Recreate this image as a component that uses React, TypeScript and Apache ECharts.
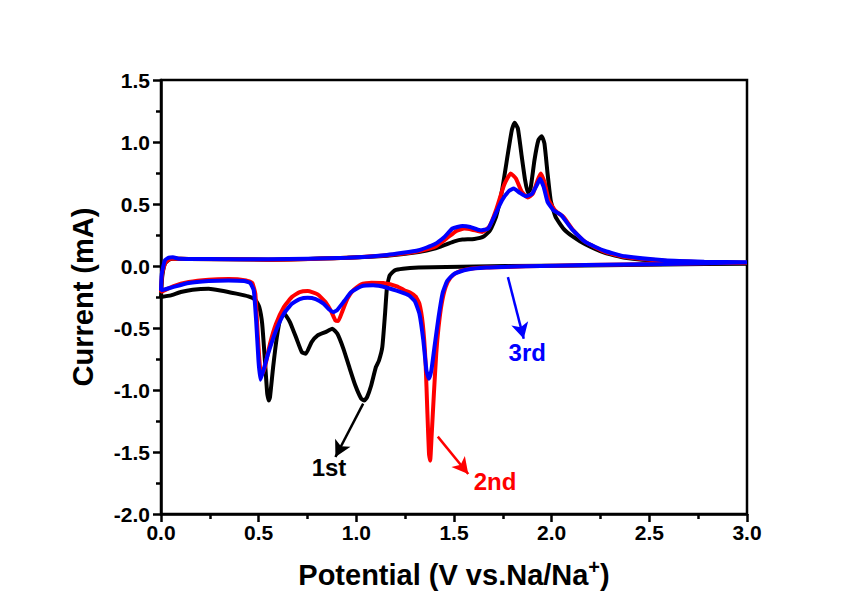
import React, { useEffect, useRef } from "react";
import * as echarts from "echarts";

// Potential (V), Current (mA) — cathodic scan (3.0 -> 0) followed by anodic scan (0 -> 3.0)
const cycle1: [number, number][] = [
  [3.0, 0.019], [2.578, 0.013], [2.172, 0.005], [1.766, 0.0], [1.461, -0.008], [1.319, -0.013],
  [1.238, -0.022], [1.197, -0.035], [1.171, -0.075], [1.157, -0.17], [1.147, -0.385], [1.133, -0.654],
  [1.116, -0.762], [1.1, -0.816], [1.076, -0.964], [1.055, -1.058], [1.041, -1.085], [1.025, -1.07],
  [0.995, -0.964], [0.964, -0.816], [0.934, -0.668], [0.903, -0.547], [0.877, -0.506], [0.842, -0.533],
  [0.802, -0.56], [0.771, -0.614], [0.741, -0.708], [0.721, -0.695], [0.694, -0.587], [0.66, -0.452],
  [0.633, -0.39], [0.613, -0.412], [0.593, -0.574], [0.574, -0.816], [0.558, -1.058], [0.552, -1.085],
  [0.544, -1.031], [0.532, -0.762], [0.518, -0.466], [0.503, -0.331], [0.483, -0.272], [0.447, -0.245],
  [0.386, -0.223], [0.304, -0.197], [0.244, -0.183], [0.162, -0.191], [0.101, -0.21], [0.051, -0.237],
  [0.0, -0.25],
  [0.006, -0.089], [0.02, 0.019], [0.04, 0.051], [0.061, 0.059], [0.142, 0.057], [0.548, 0.051],
  [0.954, 0.067], [1.157, 0.083], [1.319, 0.113], [1.4, 0.14], [1.461, 0.175], [1.502, 0.199],
  [1.543, 0.213], [1.604, 0.218], [1.654, 0.24], [1.685, 0.288], [1.715, 0.396], [1.746, 0.611],
  [1.776, 0.907], [1.796, 1.096], [1.81, 1.155], [1.827, 1.109], [1.847, 0.88], [1.864, 0.692],
  [1.878, 0.59], [1.892, 0.625], [1.912, 0.854], [1.932, 1.015], [1.949, 1.047], [1.963, 0.988],
  [1.979, 0.746], [1.995, 0.53], [2.02, 0.396], [2.06, 0.302], [2.111, 0.234], [2.172, 0.175],
  [2.273, 0.105], [2.375, 0.067], [2.578, 0.038], [2.781, 0.027], [3.0, 0.024],
];

const cycle2: [number, number][] = [
  [3.0, 0.027], [2.578, 0.016], [2.172, 0.008], [1.867, -0.003], [1.664, -0.013], [1.563, -0.027],
  [1.512, -0.054], [1.482, -0.094], [1.457, -0.17], [1.437, -0.304], [1.421, -0.493], [1.409, -0.708],
  [1.397, -1.031], [1.386, -1.354], [1.378, -1.57], [1.372, -1.516], [1.364, -1.193], [1.354, -0.762],
  [1.34, -0.466], [1.323, -0.304], [1.303, -0.245], [1.279, -0.218], [1.248, -0.197], [1.208, -0.164],
  [1.137, -0.137], [1.076, -0.135], [1.025, -0.148], [0.984, -0.197], [0.954, -0.264], [0.93, -0.358],
  [0.907, -0.444], [0.893, -0.439], [0.873, -0.372], [0.842, -0.291], [0.802, -0.229], [0.751, -0.202],
  [0.71, -0.21], [0.67, -0.25], [0.629, -0.331], [0.589, -0.466], [0.558, -0.627], [0.532, -0.816],
  [0.518, -0.87], [0.507, -0.816], [0.495, -0.547], [0.483, -0.223], [0.467, -0.137], [0.436, -0.116],
  [0.345, -0.105], [0.244, -0.11], [0.142, -0.129], [0.061, -0.164], [0.0, -0.21],
  [0.006, -0.062], [0.024, 0.032], [0.051, 0.059], [0.142, 0.057], [0.548, 0.051], [0.954, 0.067],
  [1.157, 0.086], [1.319, 0.118], [1.4, 0.153], [1.461, 0.221], [1.512, 0.283], [1.553, 0.302],
  [1.593, 0.293], [1.644, 0.275], [1.68, 0.315], [1.715, 0.45], [1.756, 0.652], [1.79, 0.746],
  [1.817, 0.705], [1.847, 0.598], [1.878, 0.552], [1.904, 0.584], [1.928, 0.692], [1.944, 0.746],
  [1.963, 0.679], [1.985, 0.53], [2.02, 0.444], [2.06, 0.396], [2.111, 0.288], [2.172, 0.194],
  [2.273, 0.113], [2.375, 0.073], [2.578, 0.043], [2.781, 0.032], [3.0, 0.027],
];

const cycle3: [number, number][] = [
  [3.0, 0.03], [2.578, 0.016], [2.172, 0.008], [1.867, -0.003], [1.664, -0.013], [1.563, -0.03],
  [1.502, -0.062], [1.465, -0.121], [1.441, -0.223], [1.421, -0.412], [1.4, -0.654], [1.384, -0.843],
  [1.372, -0.91], [1.359, -0.843], [1.343, -0.6], [1.323, -0.385], [1.299, -0.283], [1.269, -0.237],
  [1.228, -0.21], [1.157, -0.175], [1.086, -0.156], [1.025, -0.164], [0.974, -0.21], [0.938, -0.283],
  [0.903, -0.353], [0.883, -0.372], [0.863, -0.353], [0.832, -0.304], [0.792, -0.267], [0.751, -0.256],
  [0.71, -0.267], [0.67, -0.304], [0.629, -0.385], [0.589, -0.52], [0.548, -0.708], [0.524, -0.843],
  [0.509, -0.918], [0.499, -0.762], [0.487, -0.439], [0.475, -0.197], [0.457, -0.137], [0.426, -0.121],
  [0.345, -0.116], [0.244, -0.121], [0.142, -0.137], [0.061, -0.17], [0.0, -0.197],
  [0.004, -0.062], [0.02, 0.046], [0.04, 0.067], [0.061, 0.07], [0.091, 0.059], [0.244, 0.057],
  [0.548, 0.054], [0.954, 0.067], [1.157, 0.089], [1.319, 0.127], [1.4, 0.175], [1.451, 0.234],
  [1.492, 0.302], [1.543, 0.323], [1.583, 0.315], [1.634, 0.288], [1.675, 0.302], [1.709, 0.409],
  [1.746, 0.53], [1.782, 0.606], [1.806, 0.625], [1.837, 0.59], [1.867, 0.563], [1.898, 0.579],
  [1.924, 0.652], [1.94, 0.703], [1.959, 0.638], [1.979, 0.517], [2.009, 0.45], [2.05, 0.409],
  [2.101, 0.302], [2.172, 0.194], [2.273, 0.121], [2.375, 0.078], [2.578, 0.046], [2.781, 0.035],
  [3.0, 0.03],
];

const seriesNames = ["1st", "2nd", "3rd"];
const seriesColors = ["#000000", "#ff0000", "#0000ff"];

// annotation arrows: [from, to] in data coordinates
const arrowStarts: [number, number][] = [[1.035, -1.11], [1.417, -1.376], [1.776, -0.09]];
const arrowEnds: [number, number][] = [[0.893, -1.54], [1.573, -1.677], [1.857, -0.587]];
const labelPositions: [number, number][] = [[0.86, -1.623], [1.71, -1.737], [1.875, -0.695]];

const xTicks = { min: 0, max: 3, interval: 0.5 };
const yTicks = { min: -2, max: 1.5, interval: 0.5 };

const FONT = "'Liberation Sans', Arial, sans-serif";

export default function App() {
  const ref = useRef<HTMLDivElement>(null);
  useEffect(() => {
    if (!ref.current) return;
    const chart = echarts.init(ref.current, undefined, { renderer: "svg" });
    const cycles = [cycle1, cycle2, cycle3];
    const axisCommon = {
      axisLine: { show: true, onZero: false, lineStyle: { color: "#000", width: 2.5 } },
      axisTick: { show: true, inside: false, length: 8, lineStyle: { color: "#000", width: 2.5 } },
      minorTick: { show: true, splitNumber: 2, length: 5, lineStyle: { color: "#000", width: 2.5 } },
      splitLine: { show: false },
      axisLabel: {
        color: "#000",
        fontFamily: FONT,
        fontWeight: "bold",
        fontSize: 21,
        formatter: (v: number) => v.toFixed(1),
      },
    };
    const lineSeries = cycles.map((d, i) => ({
      type: "line",
      name: seriesNames[i],
      data: d,
      showSymbol: false,
      symbol: "none",
      smooth: 0.15,
      lineStyle: { color: seriesColors[i], width: 4 },
      z: 2 + i,
    }));
    const arrowSeries = {
      type: "line",
      data: [],
      silent: true,
      z: 6,
      markLine: {
        silent: true,
        symbol: ["none", "arrow"],
        symbolSize: [13, 16],
        label: { show: false },
        data: arrowStarts.map((s, i) => [
          { coord: s, lineStyle: { color: seriesColors[i], width: 2.5, type: "solid", opacity: 1 } },
          { coord: arrowEnds[i] },
        ]),
      },
    };
    const labelSeries = {
      type: "scatter",
      symbolSize: 0,
      silent: true,
      z: 7,
      itemStyle: { opacity: 1 },
      data: labelPositions.map((p, i) => ({
        value: p,
        name: seriesNames[i],
        itemStyle: { opacity: 1, color: seriesColors[i] },
        label: {
          show: true,
          position: "inside",
          formatter: seriesNames[i],
          color: seriesColors[i],
          opacity: 1,
          fontFamily: FONT,
          fontWeight: "bold",
          fontSize: 24,
        },
      })),
    };
    chart.setOption({
      animation: false,
      backgroundColor: "#ffffff",
      grid: {
        left: 161,
        right: 117,
        top: 80,
        bottom: 94,
        show: true,
        borderColor: "#000",
        borderWidth: 2.5,
        containLabel: false,
      },
      xAxis: {
        type: "value",
        ...xTicks,
        ...axisCommon,
        axisLabel: { ...axisCommon.axisLabel, margin: 8 },
        name: "Potential (V vs.Na/Na{sup|+})",
        nameLocation: "middle",
        nameGap: 43,
        nameTextStyle: {
          color: "#000",
          fontFamily: FONT,
          fontWeight: "bold",
          fontSize: 29,
          rich: {
            sup: {
              fontFamily: FONT,
              fontWeight: "bold",
              fontSize: 20,
              color: "#000",
              padding: [0, 0, 16, 0],
            },
          },
        },
      },
      yAxis: {
        type: "value",
        ...yTicks,
        ...axisCommon,
        axisLabel: { ...axisCommon.axisLabel, margin: 11 },
        name: "Current (mA)",
        nameLocation: "middle",
        nameGap: 64,
        nameTextStyle: {
          color: "#000",
          fontFamily: FONT,
          fontWeight: "bold",
          fontSize: 29,
        },
      },
      series: [...lineSeries, arrowSeries, labelSeries],
    });
    return () => chart.dispose();
  }, []);
  return <div ref={ref} style={{ width: 864, height: 608, marginLeft: -8, marginTop: -8 }} />;
}
